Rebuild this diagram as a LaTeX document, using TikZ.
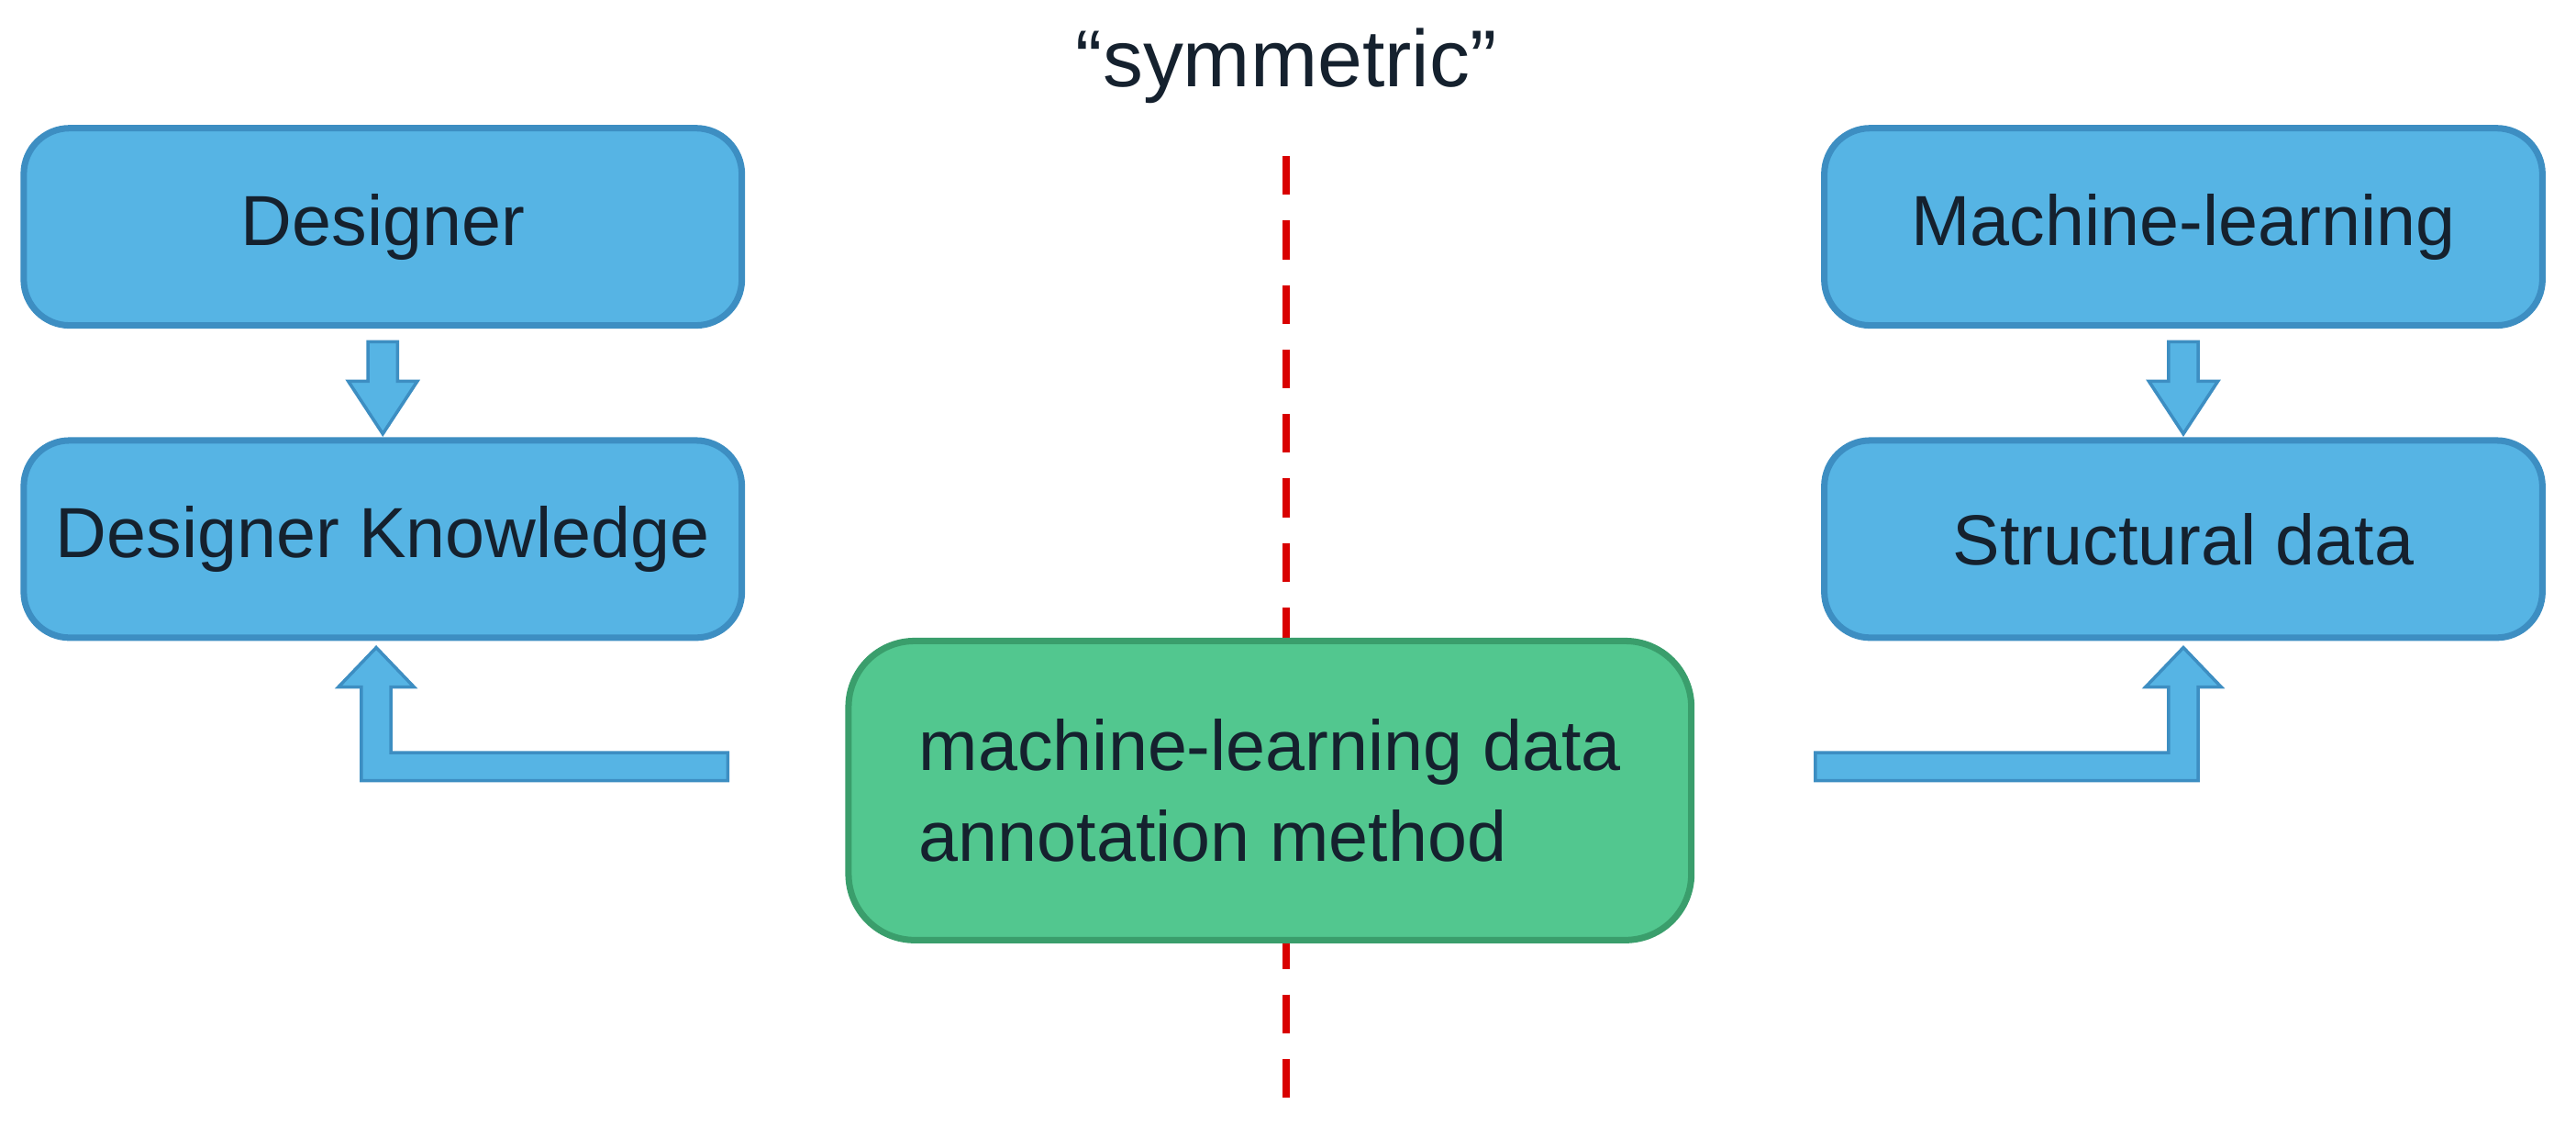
\documentclass[tikz,border=0pt]{standalone}
\usepackage{fontspec}
\setmainfont{Liberation Sans}
\usetikzlibrary{calc}
\definecolor{bfill}{HTML}{56B4E4}
\definecolor{bdraw}{HTML}{3D8EC2}
\definecolor{gfill}{HTML}{52C78F}
\definecolor{gdraw}{HTML}{3A9E6C}
\definecolor{txt}{HTML}{15212E}
\begin{document}
\begin{tikzpicture}[x=0.01791cm,y=-0.01791cm,
  box/.style={draw=bdraw,fill=bfill,line width=2pt,rounded corners=0.5cm,minimum width=7.83cm,minimum height=2.15cm,font=\fontsize{22}{26}\selectfont,text=txt},
  gbox/.style={draw=gdraw,fill=gfill,line width=2pt,rounded corners=0.72cm,minimum width=9.19cm,minimum height=3.26cm,font=\fontsize{22}{28}\selectfont,text=txt,align=left},
  barrow/.style={fill=bfill,draw=bdraw,line width=1pt}]
\useasboundingbox (0,0) rectangle (1568,692);
\draw[red!85!black,line width=2.2pt,dash pattern=on 12pt off 8pt] (783,95) coordinate (t) -- (783,680) coordinate (b);
\node[text=txt,font=\fontsize{25}{28}\selectfont] (sym) at (783,40) {“symmetric”};
\node[box] (d) at (233,138) {Designer};
\node[box] (dk) at (233,328) {Designer Knowledge};
\node[box] (ml) at (1329,138) {Machine-learning};
\node[box] (sd) at (1329,328) {Structural data};
\node[gbox] (g) at (773,481) {machine-learning data\\annotation method};
% down arrows
\foreach \n in {d,ml}{
 \draw[barrow] ($(\n.south)+(-9,8)$) -- ++(18,0) -- ++(0,24) -- ++(12,0) -- ($(\n.south)+(0,64)$) -- ++(-21,-32) -- ++(12,0) -- cycle;}
% bent arrows
\draw[barrow] (443,458) -- (238,458) -- (238,418) -- (252,418) -- (229,394) -- (206,418) -- (220,418) -- (220,475) -- (443,475) -- cycle;
\draw[barrow] (1105,458) -- (1320,458) -- (1320,418) -- (1306,418) -- (1329,394) -- (1352,418) -- (1338,418) -- (1338,475) -- (1105,475) -- cycle;
\end{tikzpicture}
\end{document}
